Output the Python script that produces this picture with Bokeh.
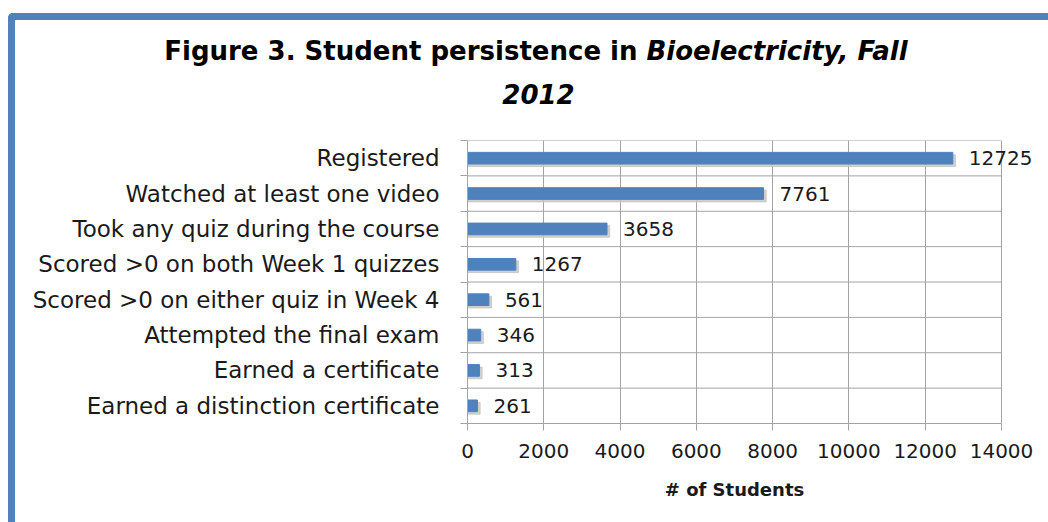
from bokeh.plotting import figure
from bokeh.layouts import column
from bokeh.models import Range1d, FixedTicker, Label, LabelSet, ColumnDataSource
from bokeh.core.properties import value
from bokeh.embed import file_html
from bokeh.resources import INLINE

categories = ["Registered", "Watched at least one video", "Took any quiz during the course",
              "Scored >0 on both Week 1 quizzes", "Scored >0 on either quiz in Week 4",
              "Attempted the final exam", "Earned a certificate",
              "Earned a distinction certificate"]
students = [12725, 7761, 3658, 1267, 561, 346, 313, 261]
x_ticks = [0, 2000, 4000, 6000, 8000, 10000, 12000, 14000]
title_main = "Figure 3. Student persistence in"
title_italic = "Bioelectricity, Fall"
title_year = "2012"
x_label = "# of Students"

FONT = "DejaVu Sans"
GRID = "#a3a3a3"
BLUE = "#4f81bd"
TXT = "#1a1a1a"

W = 1033
FRAME_LEFT = 452
FRAME_PX = 534          # pixels spanned by the 0..14000 axis
TITLE_H = 100
MAIN_H = 353
BOTTOM_H = 49

n = len(categories)
ys = [n - i - 0.5 for i in range(n)]
bounds = list(range(n + 1))


def blank(h):
    f = figure(width=W, height=h, x_range=Range1d(0, W), y_range=Range1d(0, h),
               output_backend="svg", toolbar_location=None, min_border=0,
               x_axis_type=None, y_axis_type=None)
    f.grid.visible = False
    f.outline_line_color = None
    f.frame_align = False
    return f


# ---- title ----
t = blank(TITLE_H)
t.add_layout(Label(x=622, y=70, text=title_main, text_align="right", text_baseline="middle",
                   text_font=FONT, text_font_size="26px", text_font_style="bold",
                   text_color="black"))
t.add_layout(Label(x=631, y=70, text=title_italic, text_align="left", text_baseline="middle",
                   text_font=FONT, text_font_size="26px", text_font_style="bold italic",
                   text_color="black"))
t.add_layout(Label(x=523, y=27, text=title_year, text_align="center", text_baseline="middle",
                   text_font=FONT, text_font_size="26px", text_font_style="bold italic",
                   text_color="black"))

# ---- main chart ----
x_end = x_ticks[-1] * (W - FRAME_LEFT) / FRAME_PX
p = figure(width=W, height=MAIN_H, x_range=Range1d(0, x_end), y_range=Range1d(0, n),
           output_backend="svg", toolbar_location=None,
           min_border_left=FRAME_LEFT, min_border_right=0, min_border_top=20,
           min_border_bottom=50)
p.frame_align = False
p.outline_line_color = None
p.background_fill_color = "white"
p.border_fill_color = "white"

# x axis
p.xaxis.ticker = FixedTicker(ticks=x_ticks)
p.xaxis.bounds = (x_ticks[0], x_ticks[-1])
p.xaxis.major_label_overrides = {tk: str(tk) for tk in x_ticks}
p.xaxis.major_tick_out = 7
p.xaxis.major_tick_in = 0
p.xaxis.minor_tick_out = 0
p.xaxis.minor_tick_in = 0
p.xaxis.axis_line_color = GRID
p.xaxis.major_tick_line_color = GRID
p.xaxis.major_label_text_font = FONT
p.xaxis.major_label_text_font_size = "20px"
p.xaxis.major_label_text_color = TXT
p.xaxis.major_label_standoff = 13
p.xgrid.grid_line_color = GRID

# y axis
p.yaxis.ticker = FixedTicker(ticks=ys, minor_ticks=bounds)
p.yaxis.major_label_overrides = {y: c for y, c in zip(ys, categories)}
p.yaxis.major_tick_out = 0
p.yaxis.major_tick_in = 0
p.yaxis.minor_tick_out = 7
p.yaxis.minor_tick_in = 0
p.yaxis.minor_tick_line_color = GRID
p.yaxis.axis_line_color = GRID
p.yaxis.major_label_text_font = FONT
p.yaxis.major_label_text_font_size = "23px"
p.yaxis.major_label_text_color = TXT
p.yaxis.major_label_standoff = 21
p.ygrid.visible = False

# horizontal grid lines between categories, spanning the tick range
p.segment(x0=x_ticks[0], x1=x_ticks[-1], y0=bounds, y1=bounds, line_color=GRID, line_width=1)

# bars with soft shadow
src = ColumnDataSource(dict(y=ys, v=students, lbl=[str(v) for v in students],
                            sy=[y - 0.07 for y in ys], sv=[v + 70 for v in students]))
p.hbar(y="sy", left=0, right="sv", height=0.33, color="#c4c4c4", alpha=0.8, source=src)
p.hbar(y="y", left=0, right="v", height=0.33, color=BLUE, source=src)
p.add_layout(LabelSet(x="v", y="y", text="lbl", x_offset=16, source=src,
                      text_baseline="middle", text_align="left", text_font=value(FONT),
                      text_font_size="20px", text_color=TXT))

# ---- x-axis title, centred under the 0..14000 axis ----
b = blank(BOTTOM_H)
b.add_layout(Label(x=FRAME_LEFT + FRAME_PX / 2, y=33, text=x_label, text_align="center",
                   text_baseline="middle", text_font=FONT, text_font_size="18px",
                   text_font_style="bold", text_color=TXT))

layout = column(t, p, b, spacing=0,
                styles={"border-top": "7px solid " + BLUE, "border-left": "7px solid " + BLUE,
                        "border-top-left-radius": "5px", "margin-top": "13px",
                        "margin-left": "8px"})

open("out.html", "w").write(file_html(layout, INLINE))
